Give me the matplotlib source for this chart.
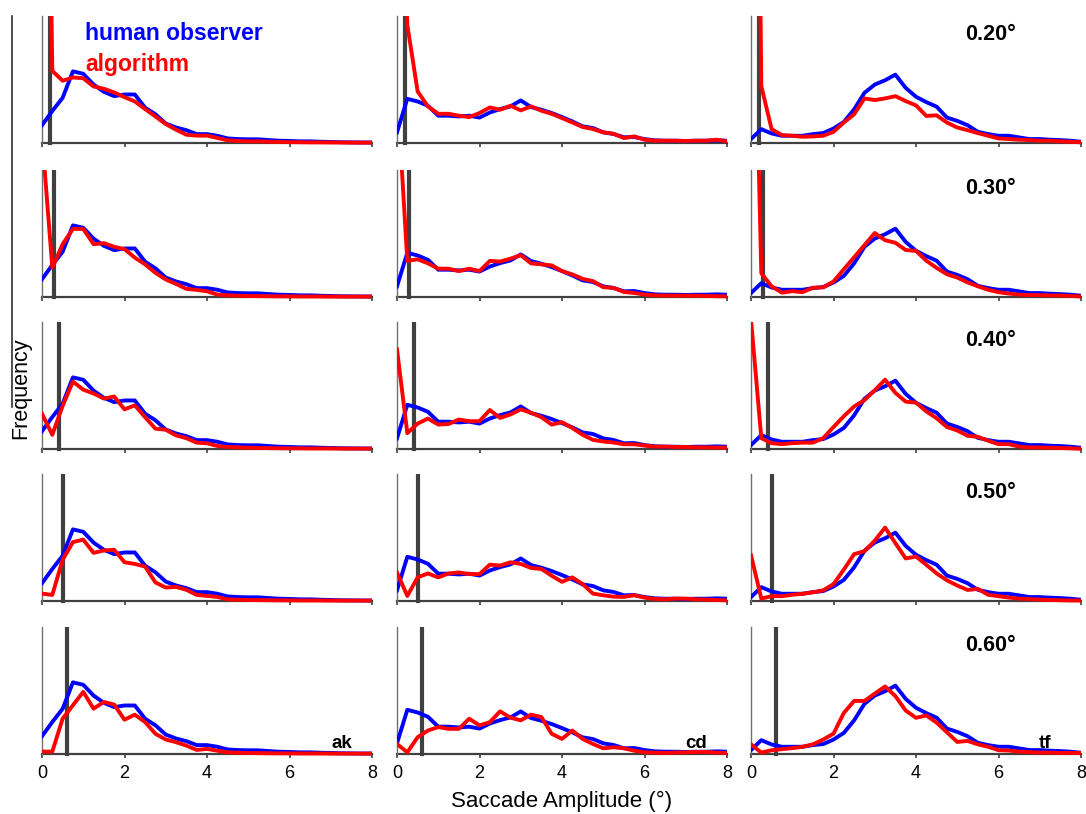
import numpy as np
import matplotlib
matplotlib.use("Agg")
import matplotlib.pyplot as plt
from matplotlib.lines import Line2D

plt.rcParams['font.family'] = ['Liberation Sans', 'DejaVu Sans']

# Saccade amplitude bin centres (deg)
amplitude = np.arange(0, 8.001, 0.25)

subjects = ["ak", "cd", "tf"]
thresholds = [0.20, 0.30, 0.40, 0.50, 0.60]

# Normalised saccade frequency, human observer (one curve per subject)
human_ak = [0.140, 0.252, 0.356, 0.564, 0.545, 0.460, 0.403, 0.369, 0.382, 0.382, 0.278,
            0.226, 0.153, 0.122, 0.101, 0.070, 0.070, 0.057, 0.036, 0.031, 0.029, 0.029,
            0.023, 0.018, 0.016, 0.013, 0.013, 0.010, 0.008, 0.006, 0.005, 0.004, 0.004]
human_cd = [0.084, 0.348, 0.327, 0.293, 0.215, 0.215, 0.209, 0.215, 0.200, 0.240, 0.267,
            0.288, 0.335, 0.283, 0.262, 0.236, 0.204, 0.170, 0.131, 0.118, 0.084, 0.071,
            0.045, 0.047, 0.031, 0.021, 0.018, 0.018, 0.016, 0.018, 0.018, 0.021, 0.018]
human_tf = [0.031, 0.109, 0.075, 0.057, 0.057, 0.057, 0.070, 0.078, 0.114, 0.166, 0.265,
            0.395, 0.460, 0.494, 0.538, 0.434, 0.364, 0.322, 0.286, 0.200, 0.174, 0.140,
            0.088, 0.070, 0.057, 0.057, 0.044, 0.031, 0.031, 0.026, 0.023, 0.018, 0.010]

# Algorithm output for each velocity threshold (rows: 0.2 .. 0.6 deg)
algo_ak = [
    [6.000, 0.568, 0.490, 0.516, 0.510, 0.445, 0.427, 0.398, 0.361, 0.327, 0.267,
     0.209, 0.149, 0.105, 0.065, 0.058, 0.058, 0.040, 0.021, 0.016, 0.013, 0.013,
     0.010, 0.008, 0.007, 0.006, 0.005, 0.005, 0.004, 0.004, 0.003, 0.003, 0.003],
    [1.270, 0.230, 0.416, 0.536, 0.536, 0.416, 0.424, 0.395, 0.377, 0.310, 0.257,
     0.190, 0.138, 0.103, 0.064, 0.056, 0.045, 0.019, 0.013, 0.010, 0.008, 0.007,
     0.006, 0.005, 0.005, 0.004, 0.004, 0.004, 0.003, 0.003, 0.003, 0.003, 0.003],
    [0.277, 0.112, 0.339, 0.531, 0.467, 0.437, 0.397, 0.413, 0.312, 0.344, 0.250,
     0.160, 0.152, 0.107, 0.085, 0.050, 0.045, 0.024, 0.016, 0.013, 0.010, 0.008,
     0.007, 0.006, 0.005, 0.005, 0.004, 0.004, 0.004, 0.003, 0.003, 0.003, 0.003],
    [0.058, 0.048, 0.324, 0.464, 0.483, 0.379, 0.398, 0.403, 0.305, 0.292, 0.271,
     0.146, 0.106, 0.111, 0.088, 0.048, 0.040, 0.032, 0.013, 0.010, 0.008, 0.007,
     0.006, 0.005, 0.005, 0.004, 0.004, 0.004, 0.003, 0.003, 0.003, 0.003, 0.003],
    [0.019, 0.019, 0.278, 0.384, 0.489, 0.357, 0.410, 0.389, 0.270, 0.310, 0.251,
     0.159, 0.114, 0.093, 0.066, 0.032, 0.040, 0.026, 0.013, 0.010, 0.008, 0.007,
     0.006, 0.005, 0.005, 0.004, 0.004, 0.004, 0.003, 0.003, 0.003, 0.003, 0.003],
]
algo_cd = [
    [3.000, 0.930, 0.406, 0.288, 0.230, 0.230, 0.215, 0.204, 0.236, 0.280, 0.262,
     0.293, 0.257, 0.288, 0.254, 0.230, 0.196, 0.162, 0.126, 0.110, 0.084, 0.073,
     0.039, 0.052, 0.026, 0.018, 0.018, 0.018, 0.016, 0.018, 0.018, 0.026, 0.013],
    [1.650, 0.284, 0.297, 0.265, 0.223, 0.223, 0.204, 0.223, 0.204, 0.284, 0.279,
     0.302, 0.329, 0.265, 0.257, 0.249, 0.204, 0.178, 0.143, 0.125, 0.077, 0.072,
     0.040, 0.032, 0.019, 0.013, 0.011, 0.011, 0.010, 0.010, 0.008, 0.006, 0.005],
    [0.784, 0.125, 0.200, 0.240, 0.192, 0.197, 0.232, 0.219, 0.219, 0.307, 0.245,
     0.272, 0.312, 0.285, 0.251, 0.192, 0.211, 0.165, 0.112, 0.072, 0.059, 0.051,
     0.037, 0.037, 0.027, 0.019, 0.019, 0.016, 0.016, 0.013, 0.013, 0.011, 0.011],
    [0.225, 0.040, 0.186, 0.217, 0.186, 0.217, 0.225, 0.212, 0.212, 0.286, 0.279,
     0.305, 0.292, 0.260, 0.252, 0.199, 0.151, 0.186, 0.133, 0.058, 0.045, 0.034,
     0.032, 0.045, 0.027, 0.016, 0.013, 0.019, 0.019, 0.013, 0.011, 0.008, 0.005],
    [0.079, 0.013, 0.132, 0.185, 0.212, 0.198, 0.198, 0.278, 0.225, 0.251, 0.336,
     0.286, 0.265, 0.310, 0.291, 0.159, 0.119, 0.185, 0.119, 0.079, 0.045, 0.053,
     0.045, 0.026, 0.013, 0.011, 0.008, 0.011, 0.013, 0.016, 0.016, 0.011, 0.008],
]
algo_tf = [
    [8.000, 0.447, 0.109, 0.062, 0.057, 0.049, 0.052, 0.057, 0.088, 0.161, 0.226,
     0.351, 0.338, 0.351, 0.369, 0.330, 0.296, 0.213, 0.218, 0.161, 0.122, 0.101,
     0.078, 0.057, 0.036, 0.031, 0.026, 0.023, 0.018, 0.018, 0.013, 0.010, 0.005],
    [3.600, 0.187, 0.084, 0.034, 0.046, 0.038, 0.073, 0.076, 0.122, 0.218, 0.313,
     0.408, 0.504, 0.447, 0.427, 0.370, 0.363, 0.286, 0.229, 0.179, 0.153, 0.115,
     0.084, 0.057, 0.038, 0.027, 0.019, 0.015, 0.015, 0.012, 0.012, 0.008, 0.004],
    [1.020, 0.085, 0.046, 0.038, 0.046, 0.050, 0.050, 0.085, 0.173, 0.258, 0.335,
     0.385, 0.462, 0.546, 0.442, 0.373, 0.365, 0.296, 0.242, 0.173, 0.146, 0.104,
     0.096, 0.065, 0.038, 0.038, 0.019, 0.012, 0.012, 0.010, 0.008, 0.005, 0.002],
    [0.361, 0.019, 0.038, 0.038, 0.049, 0.057, 0.068, 0.084, 0.133, 0.247, 0.369,
     0.392, 0.475, 0.578, 0.456, 0.335, 0.350, 0.285, 0.217, 0.163, 0.122, 0.087,
     0.095, 0.049, 0.038, 0.027, 0.019, 0.015, 0.011, 0.008, 0.006, 0.004, 0.004],
    [0.076, 0.011, 0.030, 0.038, 0.046, 0.057, 0.076, 0.114, 0.160, 0.323, 0.418,
     0.418, 0.475, 0.532, 0.456, 0.342, 0.285, 0.304, 0.247, 0.171, 0.095, 0.103,
     0.076, 0.057, 0.030, 0.027, 0.019, 0.015, 0.011, 0.011, 0.008, 0.008, 0.008],
]

human = [human_ak, human_cd, human_tf]
algo = [algo_ak, algo_cd, algo_tf]

W, H = 1086, 814
fig = plt.figure(figsize=(W / 100, H / 100), dpi=100)

col_left = [42, 397, 751]
panel_w = 330
row_top = [16, 170, 322, 474, 627]
panel_h = 127
pad_px = 3          # room below the baseline so the curves are not cut in half

BLUE = "#0000FF"
RED = "#FF0000"
DARK = "#404040"

for r in range(5):
    for c in range(3):
        ax = fig.add_axes([col_left[c] / W,
                           1 - (row_top[r] + panel_h + pad_px) / H,
                           panel_w / W, (panel_h + pad_px) / H])
        ax.axvline(thresholds[r], ymin=pad_px / (panel_h + pad_px), ymax=1,
                   color=DARK, lw=3.0, zorder=1)
        ax.plot(amplitude, human[c], color=BLUE, lw=2.8, zorder=3,
                solid_joinstyle="round")
        ax.plot(amplitude, algo[c][r], color=RED, lw=2.8, zorder=4,
                solid_joinstyle="round")
        ax.set_xlim(0, 8)
        ax.set_ylim(-pad_px / panel_h, 1)
        ax.set_xticks([0, 2, 4, 6, 8])
        ax.set_yticks([])
        for s in ("top", "right"):
            ax.spines[s].set_visible(False)
        ax.spines["left"].set_color("#707070")
        ax.spines["left"].set_linewidth(1.0)
        ax.spines["left"].set_bounds(0, 1)
        ax.spines["bottom"].set_position(("data", 0))
        ax.spines["bottom"].set_color(DARK)
        ax.spines["bottom"].set_linewidth(1.6)
        ax.spines["bottom"].set_zorder(2)
        ax.tick_params(axis="x", direction="out", length=3, width=1.2,
                       color=DARK, labelsize=13, pad=5,
                       labelbottom=(r == 4))
        if c == 2:
            ax.text(5.8, 0.855, f"{thresholds[r]:.2f}\u00b0", fontsize=15.5,
                    fontweight="bold", ha="center", va="center")
        if r == 4:
            xs = [7.28, 7.26, 7.14][c]
            ax.text(xs, 0.045, subjects[c], fontsize=13.5, fontweight="bold",
                    ha="center", va="baseline")
        if r == 0 and c == 0:
            ax.text(1.04, 0.81, "human observer", color=BLUE, fontsize=16.5,
                    fontweight="bold", ha="left", va="baseline")
            ax.text(1.04, 0.565, "algorithm", color=RED, fontsize=16.5,
                    fontweight="bold", ha="left", va="baseline")
        if r == 4 and c == 1:
            ax.set_xlabel("Saccade Amplitude (\u00b0)", fontsize=16, labelpad=6)

fig.text(21 / W, 1 - 388 / H, "Frequency", rotation=90, fontsize=15.5,
         ha="center", va="center")
fig.add_artist(Line2D([12 / W, 12 / W], [1 - 16 / H, 1 - 407 / H],
                      color="#303030", lw=1.2))

fig.savefig("out.png", dpi=100)
